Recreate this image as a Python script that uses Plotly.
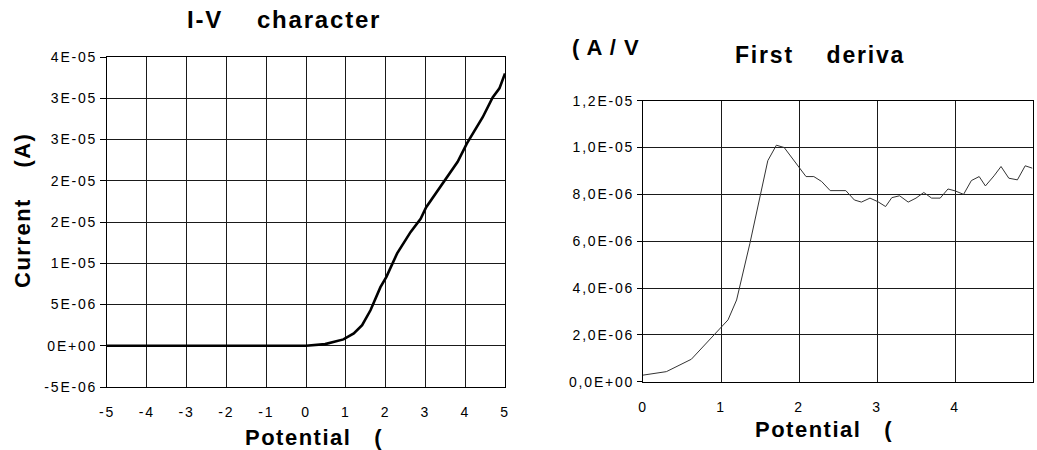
import plotly.graph_objects as go

# ---- Left chart: I-V characteristic ----
iv_potential = [-5, -4, -3, -2, -1, 0, 0.48, 0.69, 0.94, 1.2, 1.41, 1.62, 1.87, 2.02,
                2.29, 2.63, 2.88, 3.02, 3.47, 3.81, 4.04, 4.44, 4.69, 4.86, 5.0]
iv_current = [0, 0, 0, 0, 0, 0, 2e-7, 4.5e-7, 7.7e-7, 1.5e-6, 2.5e-6, 4.3e-6, 7.1e-6, 8.35e-6,
              1.12e-5, 1.38e-5, 1.54e-5, 1.68e-5, 1.99e-5, 2.23e-5, 2.45e-5, 2.77e-5, 3.01e-5, 3.12e-5, 3.3e-5]
iv_ytickvals = [-5e-6, 0, 5e-6, 1e-5, 1.5e-5, 2e-5, 2.5e-5, 3e-5, 3.5e-5]
iv_yticktext = ["-5E-06", "0E+00", "5E-06", "1E-05", "2E-05", "2E-05", "3E-05", "3E-05", "4E-05"]
iv_xtickvals = [-5, -4, -3, -2, -1, 0, 1, 2, 3, 4, 5]
iv_xticktext = ["-5", "-4", "-3", "-2", "-1", "0", "1", "2", "3", "4", "5"]

# ---- Right chart: first derivative ----
d_potential = [0.0, 0.30, 0.62, 1.09, 1.20, 1.37, 1.60, 1.71, 1.81, 1.99, 2.09, 2.19, 2.29, 2.40,
               2.60, 2.71, 2.80, 2.91, 3.01, 3.11, 3.19, 3.29, 3.40, 3.50, 3.60, 3.70, 3.81,
               3.91, 4.00, 4.11, 4.21, 4.31, 4.39, 4.50, 4.59, 4.69, 4.80, 4.90, 4.99]
d_value = [2.8e-7, 4.3e-7, 9.6e-7, 2.64e-6, 3.49e-6, 5.9e-6, 9.44e-6, 1.01e-5, 1.0e-5, 9.19e-6,
           8.76e-6, 8.76e-6, 8.55e-6, 8.16e-6, 8.16e-6, 7.76e-6, 7.67e-6, 7.84e-6, 7.69e-6, 7.48e-6,
           7.86e-6, 7.94e-6, 7.67e-6, 7.84e-6, 8.08e-6, 7.84e-6, 7.84e-6, 8.23e-6, 8.15e-6, 8.0e-6,
           8.59e-6, 8.76e-6, 8.36e-6, 8.79e-6, 9.19e-6, 8.69e-6, 8.62e-6, 9.22e-6, 9.12e-6]
d_ytickvals = [0, 2e-6, 4e-6, 6e-6, 8e-6, 1e-5, 1.2e-5]
d_yticktext = ["0,0E+00", "2,0E-06", "4,0E-06", "6,0E-06", "8,0E-06", "1,0E-05", "1,2E-05"]
d_xtickvals = [0, 1, 2, 3, 4, 5]
d_xticktext = ["0", "1", "2", "3", "4", "5"]

W, H = 1037, 450
FONT = "Liberation Sans, Arial, sans-serif"
TICK_SP = 1.8


def fx(px):
    return px / W


def fy(py):
    return 1 - py / H


def spaced(s, sp):
    return f'<span style="letter-spacing:{sp}px">{s}</span>'


fig = go.Figure()
fig.add_trace(go.Scatter(x=iv_potential, y=iv_current, mode="lines",
                         line=dict(color="black", width=2.6), xaxis="x", yaxis="y",
                         showlegend=False, hoverinfo="skip"))
fig.add_trace(go.Scatter(x=d_potential, y=d_value, mode="lines",
                         line=dict(color="#333333", width=1), xaxis="x2", yaxis="y2",
                         showlegend=False, hoverinfo="skip"))

axis_common = dict(showgrid=True, gridcolor="#1a1a1a", gridwidth=1, showline=True,
                   linecolor="black", linewidth=1, mirror=True, zeroline=False,
                   automargin=False,
                   tickfont=dict(family=FONT, size=14, color="black"))

fig.update_layout(
    width=W, height=H, margin=dict(l=0, r=0, t=0, b=0, pad=0, autoexpand=False),
    paper_bgcolor="white", plot_bgcolor="white",
    font=dict(family=FONT, color="black"),
    xaxis=dict(domain=[fx(107), fx(505)], range=[-5, 5], tickvals=iv_xtickvals,
               ticktext=[spaced(t, TICK_SP) for t in iv_xticktext],
               anchor="y", ticks="", ticklabelstandoff=12, **axis_common),
    yaxis=dict(domain=[fy(387), fy(57)], range=[-5e-6, 3.5e-5],
               tickvals=iv_ytickvals, ticktext=[spaced(t, TICK_SP) for t in iv_yticktext],
               anchor="x", ticks="outside", ticklen=6, tickcolor="black", **axis_common),
    xaxis2=dict(domain=[fx(643), fx(1033)], range=[0, 5], tickvals=d_xtickvals,
                ticktext=[spaced(t, TICK_SP) for t in d_xticktext],
                anchor="y2", ticks="", ticklabelstandoff=12, **axis_common),
    yaxis2=dict(domain=[fy(381.7), fy(100.7)], range=[0, 1.2e-5],
                tickvals=d_ytickvals, ticktext=[spaced(t, TICK_SP) for t in d_yticktext],
                anchor="x2", ticks="outside", ticklen=5, tickcolor="black", **axis_common),
)


def txt(text, x, y, size, angle=0, xanchor="left", sp=1.8):
    fig.add_annotation(text="<b>" + spaced(text, sp) + "</b>", x=fx(x), y=fy(y),
                       xref="paper", yref="paper", showarrow=False, textangle=angle,
                       xanchor=xanchor, yanchor="middle",
                       font=dict(family=FONT, size=size, color="black"))


txt("I-V    character", 185, 20, 24)
txt("Current    (A)", 22, 211, 22, angle=-90, xanchor="center", sp=1.5)
txt("Potential   (", 243, 437, 22, sp=1.5)
txt("( A / V", 570, 47, 22, sp=1.0)
txt("First    deriva", 733, 55, 23)
txt("Potential   (", 753, 429, 22, sp=1.5)

fig.write_html("out.html",
               config={"displayModeBar": False},
               post_script="document.body.style.margin='0';document.body.style.overflow='hidden';")
